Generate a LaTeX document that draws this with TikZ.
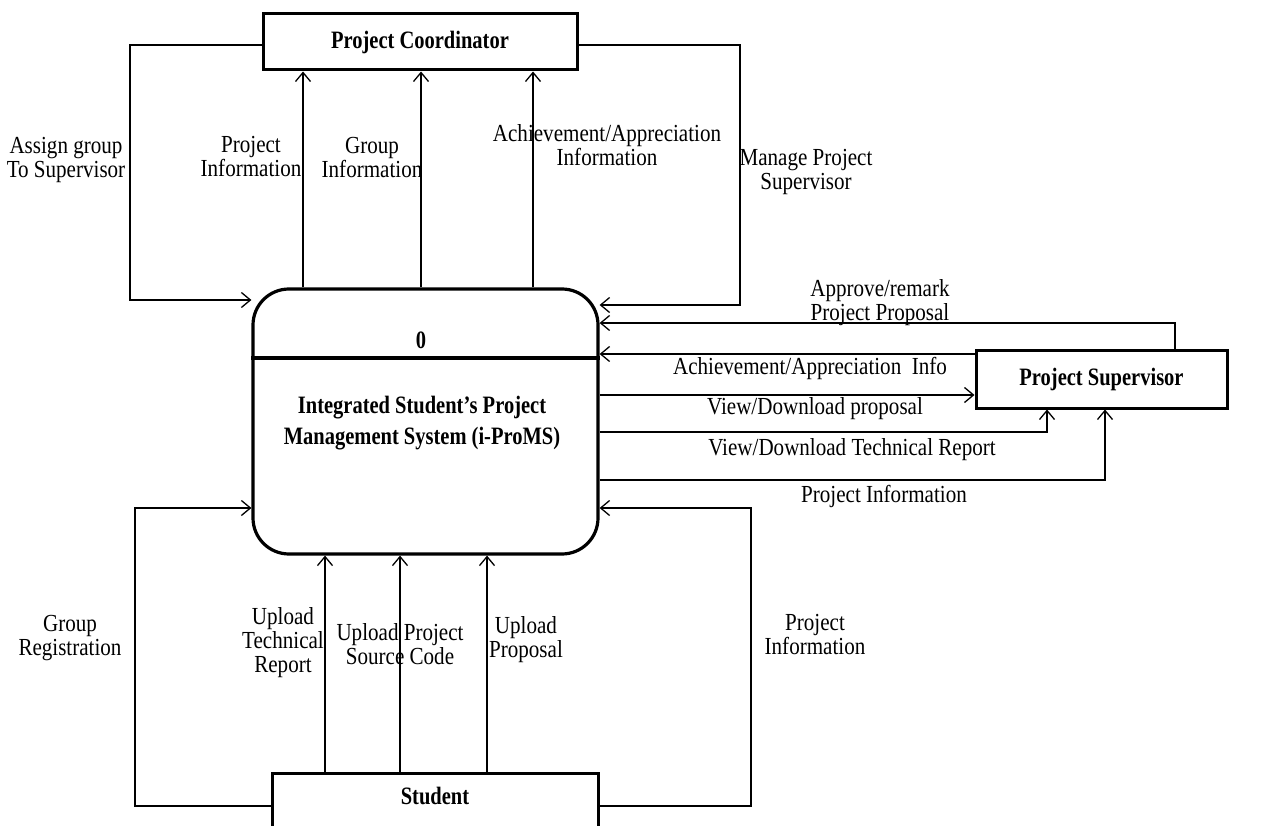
\documentclass[tikz,border=0pt]{standalone}
\usepackage{fontspec}
\setmainfont{Liberation Serif}
\newfontfamily\lblfont[FakeStretch=0.86]{Liberation Serif}
\newfontfamily\entfont[FakeStretch=0.82]{Liberation Serif}
\usetikzlibrary{arrows.meta}
\tikzset{
  ent/.style={draw, line width=3pt, rectangle, inner sep=0pt, font=\entfont\fontsize{25}{28}\selectfont\bfseries},
  procbox/.style={draw, line width=3.2pt, rectangle, rounded corners=36pt, inner sep=0pt, minimum width=345pt, minimum height=265pt},
  flow/.style={line width=1.3pt, -{Straight Barb[length=9pt,width=15pt,line width=1.3pt]}},
  lbl/.style={align=center, inner sep=0pt, font=\lblfont\fontsize{24.5}{24}\selectfont},
  ptext/.style={align=center, inner sep=0pt, font=\entfont\fontsize{25}{31}\selectfont\bfseries}
}
\begin{document}
\begin{tikzpicture}[x=1pt,y=-1pt]
\useasboundingbox (0,0) rectangle (1269,826);
\clip (0,0) rectangle (1269,826);
\fill[white] (0,0) rectangle (1269,826);
% entities
\node[ent, minimum width=314pt, minimum height=56pt] (pc) at (420,42) {Project Coordinator};
\node[ent, minimum width=251pt, minimum height=58pt] (ps) at (1101.5,379) {Project Supervisor};
\node[ent, minimum width=326pt, minimum height=72pt] (stu) at (435,809) {};
\node[ent, draw=none] (stut) at (435,796) {Student};
% process
\node[procbox] (proc) at (425.5,421.5) {};
\draw[line width=3.2pt] (proc.west |- 0,358) -- (proc.east |- 0,358);
\node[ptext] (pnum) at (421,340) {0};
\node[ptext] (pname) at (422,423) {Integrated Student’s Project\\Management System (i-ProMS)};
% coordinator flows
\draw[flow] ([yshift=-3pt]pc.west) -| (130,300) -- (proc.west |- 0,300);
\draw[flow] ([yshift=-3pt]pc.east) -| (740,305) -- (proc.east |- 0,305);
\draw[flow] (proc.north -| 303,0) -- (pc.south -| 303,0);
\draw[flow] (proc.north -| 421,0) -- (pc.south -| 421,0);
\draw[flow] (proc.north -| 533,0) -- (pc.south -| 533,0);
% supervisor flows
\draw[flow] (ps.north -| 1175,0) |- (proc.east |- 0,323);
\draw[flow] (ps.west |- 0,354) -- (proc.east |- 0,354);
\draw[flow] (proc.east |- 0,395) -- (ps.west |- 0,395);
\draw[flow] (proc.east |- 0,432) -| (ps.south -| 1047,0);
\draw[flow] (proc.east |- 0,480) -| (ps.south -| 1105,0);
% student flows
\draw[flow] ([yshift=3pt]stu.west) -| (135,508) -- (proc.west |- 0,508);
\draw[flow] ([yshift=3pt]stu.east) -| (751,508) -- (proc.east |- 0,508);
\draw[flow] (stu.north -| 325,0) -- (proc.south -| 325,0);
\draw[flow] (stu.north -| 400,0) -- (proc.south -| 400,0);
\draw[flow] (stu.north -| 487,0) -- (proc.south -| 487,0);
% labels
\node[lbl] (l1) at (66,160) {Assign group\\To Supervisor};
\node[lbl] (l2) at (251,157) {Project\\Information};
\node[lbl] (l3) at (372,158) {Group\\Information};
\node[lbl] (l4) at (607,145) {Achievement/Appreciation\\Information};
\node[lbl] (l5) at (806,172) {Manage Project\\Supervisor};
\node[lbl] (l6) at (880,303) {Approve/remark\\Project Proposal};
\node[lbl] (l7) at (810,368) {Achievement/Appreciation\ \ Info};
\node[lbl] (l8) at (815,409) {View/Download proposal};
\node[lbl] (l9) at (852,450) {View/Download Technical\ Report};
\node[lbl] (l10) at (884,496) {Project Information};
\node[lbl] (l11) at (70,638) {Group\\Registration};
\node[lbl] (l12) at (283,643) {Upload\\Technical\\Report};
\node[lbl] (l13) at (400,644) {Upload Project\\Source Code};
\node[lbl] (l14) at (526,640) {Upload\\Proposal};
\node[lbl] (l15) at (815,635) {Project\\Information};
\end{tikzpicture}
\end{document}
